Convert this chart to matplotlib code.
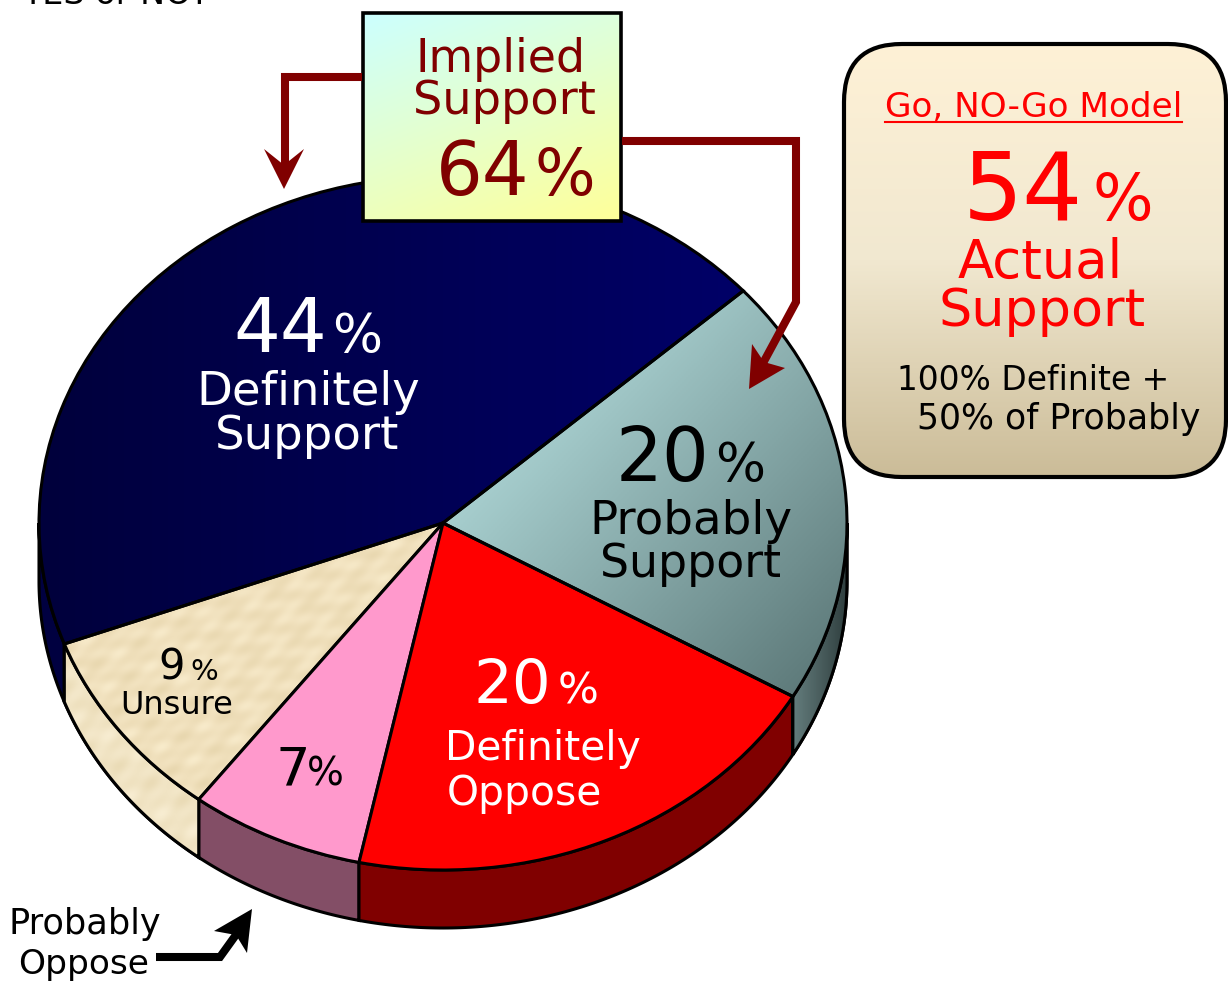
import numpy as np
import matplotlib
matplotlib.use('Agg')
import matplotlib.pyplot as plt
from matplotlib.colors import LinearSegmentedColormap
from matplotlib.patches import Polygon, Rectangle, FancyBboxPatch

# Chart data
slice_names = ['Definitely Support', 'Unsure', 'Probably Oppose', 'Definitely Oppose', 'Probably Support']
slice_values = [44, 9, 7, 20, 20]
slice_colors = ['#000066', '#F0E0BC', '#FF99CC', '#FF0000', '#8FB5B5']
side_colors = ['#000040', '#F3E6C6', '#834E66', '#800000', '#4F6868']
implied_support = 64
actual_support = 54

# Geometry of the tilted pie, in pixels of the 1228x981 picture
W, H = 1228, 981
cx, cy, rx, ry = 443, 523, 404, 347
depth = 58
start_angle = 42
dark_red = '#800000'


def gradient(c1, c2, horizontal, vertical, n=200):
    # 0..1 ramp running in the given direction
    x, y = np.meshgrid(np.linspace(0, 1, n), np.linspace(0, 1, n))
    ramp = (horizontal * x + vertical * y) / (horizontal + vertical)
    return ramp, LinearSegmentedColormap.from_list('g', [c1, c2])


def head(ax, tip, left, right, notch, color):
    ax.add_patch(Polygon([tip, left, notch, right], closed=True, fc=color, ec='none', zorder=6))


def label(ax, x, y, s, size, color='black', **kw):
    ax.text(x, y, s, fontsize=size, color=color, ha='left', va='baseline', zorder=7, **kw)


plt.rcParams['font.family'] = ['DejaVu Sans']
fig = plt.figure(figsize=(W / 100, H / 100), dpi=100, facecolor='white')

# Pie axes: unit circle maps onto the ellipse
pie_ax = fig.add_axes([0, 0, 1, 1])
wedges, _ = pie_ax.pie(slice_values, colors=slice_colors, startangle=start_angle, radius=1,
                       wedgeprops={'edgecolor': 'black', 'linewidth': 2.2, 'zorder': 3})
pie_ax.set_aspect('auto')
pie_xlim = ((0 - cx) / rx, (W - cx) / rx)
pie_ylim = ((cy - H) / ry, cy / ry)
pie_ax.axis('off')

# Sides of the pie, lower half only
shift = depth / ry
edges = start_angle + np.cumsum([0] + slice_values) * 3.6
side_patches = []
for i in range(len(slice_values)):
    a0, a1 = edges[i], edges[i + 1]
    for lo, hi in [(a0, a1), (a0 - 360, a1 - 360)]:
        lo, hi = max(lo, -180), min(hi, 0)
        if hi <= lo:
            continue
        t = np.radians(np.linspace(lo, hi, 120))
        top = np.column_stack([np.cos(t), np.sin(t)])
        bottom = (top - [0, shift])[::-1]
        p = Polygon(np.vstack([top, bottom]), closed=True, fc=side_colors[i], ec='black', lw=2.2, zorder=2)
        pie_ax.add_patch(p)
        side_patches.append((i, p))

# Shading of the top and side faces
ramp, cmap = gradient('#C6F2F2', '#557070', 1, 1)
im = pie_ax.imshow(ramp, cmap=cmap, extent=(0.0, 1.0, -0.55, 0.68), origin='upper', aspect='auto', zorder=2.5)
im.set_clip_path(wedges[4])

ramp, cmap = gradient('#00003C', '#00006E', 1, 0)
im = pie_ax.imshow(ramp, cmap=cmap, extent=(-1.0, 1.0, -1.0, 1.0), origin='upper', aspect='auto', zorder=2.5)
im.set_clip_path(wedges[0])

# Mottled paper look of the Unsure slice
gx, gy = np.meshgrid(np.arange(160), np.arange(160))
mottle = (np.sin(gx * 0.41 + gy * 0.13) + np.sin(gx * 0.17 - gy * 0.37) + np.sin(gx * 0.73 + gy * 0.59)
          + np.sin(gx * 0.09 + gy * 0.83))
paper = LinearSegmentedColormap.from_list('paper', ['#E8D7AF', '#F0E0BC', '#F8EBCB'])
im = pie_ax.imshow(mottle, cmap=paper, extent=(-1.0, 0.0, -1.0, 0.0), aspect='auto',
                   interpolation='bilinear', zorder=2.5)
im.set_clip_path(wedges[1])

for i, p in side_patches:
    if i == 4:
        ramp, cmap = gradient('#7F9C9C', '#2F3F3F', 1, 0)
        im = pie_ax.imshow(ramp, cmap=cmap, extent=(0.8, 1.0, -1.0, 0.0), origin='upper', aspect='auto', zorder=2.2)
        im.set_clip_path(p)
        pie_ax.add_patch(Polygon(p.get_xy(), closed=True, fc='none', ec='black', lw=2.2, zorder=2.3))
    if i == 1:
        im = pie_ax.imshow(mottle, cmap=LinearSegmentedColormap.from_list('p2', ['#EADBB6', '#F8EDD2']),
                           extent=(-1.0, 0.0, -1.3, 0.0), aspect='auto', interpolation='bilinear', zorder=2.2)
        im.set_clip_path(p)
        pie_ax.add_patch(Polygon(p.get_xy(), closed=True, fc='none', ec='black', lw=2.2, zorder=2.3))

for w in wedges:
    w.set_zorder(3)
for i in (0, 1, 4):
    wedges[i].set_facecolor('none')
pie_ax.set_xlim(pie_xlim)
pie_ax.set_ylim(pie_ylim)

# Overlay axes in picture pixels for call-outs and text
ax = fig.add_axes([0, 0, 1, 1])
ax.set_xlim(0, W)
ax.set_ylim(H, 0)
ax.axis('off')
ax.patch.set_alpha(0)

label(ax, 22, 4, 'YES or NO?', 24)

# Implied support box
ramp, cmap = gradient('#CCFFFF', '#FFFF99', 0.5, 1)
im = ax.imshow(ramp, cmap=cmap, extent=(363, 621, 221, 13), aspect='auto', zorder=4)
ax.add_patch(Rectangle((363, 13), 258, 208, fc='none', ec='black', lw=2.6, zorder=5))
label(ax, 415, 72, 'Implied', 33, dark_red)
label(ax, 413, 114, 'Support', 33.3, dark_red)
label(ax, 436, 195, str(implied_support), 53, dark_red)
label(ax, 534, 195, '%', 46, dark_red)

# Dark red arrows out of the box
ax.plot([362, 285, 285], [77, 77, 170], color=dark_red, lw=5.8, solid_joinstyle='miter', solid_capstyle='butt', zorder=5)
head(ax, (284, 189), (264, 149), (304, 149), (284, 165), dark_red)
ax.plot([622, 796, 796, 762], [141, 141, 302, 365], color=dark_red, lw=5.8, solid_joinstyle='miter',
        solid_capstyle='butt', zorder=5)
head(ax, (749, 389), (752, 344), (785, 368), (764, 362), dark_red)

# Black arrow for Probably Oppose
ax.plot([156, 220, 238], [957, 957, 932], color='black', lw=5.8, solid_joinstyle='miter', solid_capstyle='butt', zorder=5)
head(ax, (252, 909), (214, 931), (247, 953), (236, 935), 'black')

# Go / No-Go panel
box = FancyBboxPatch((844 + 58, 44 + 58), 382 - 116, 433 - 116, boxstyle='round,pad=58,rounding_size=58',
                     fc='none', ec='black', lw=3, zorder=5)
ax.add_patch(box)
ramp, cmap = gradient('#FEF1D6', '#CBBC98', 0, 1)
cmap = LinearSegmentedColormap.from_list('panel', ['#FEF1D6', '#F1E8D0', '#CBBC98'])
im = ax.imshow(ramp, cmap=cmap, extent=(844, 1226, 477, 44), aspect='auto', zorder=4)
im.set_clip_path(box)
label(ax, 885, 117, 'Go, NO-Go Model', 24.7, '#FF0000')
ax.plot([885, 1182], [122, 122], color='#FF0000', lw=1.5, zorder=7)
label(ax, 963, 220, str(actual_support), 68, '#FF0000')
label(ax, 1092, 220, '%', 46, '#FF0000')
label(ax, 958, 278, 'Actual', 38, '#FF0000')
label(ax, 938, 326, 'Support', 37.7, '#FF0000')
label(ax, 897, 390, '100% Definite +', 23.7)
label(ax, 917, 429, '50% of Probably', 25)

# Slice labels
label(ax, 233, 352, str(slice_values[0]), 53, 'white')
label(ax, 332, 352, '%', 38, 'white')
label(ax, 196, 405, 'Definitely', 33.5, 'white')
label(ax, 215, 449, 'Support', 33.5, 'white')

label(ax, 616, 481, str(slice_values[4]), 53)
label(ax, 715, 481, '%', 38)
label(ax, 589, 534, 'Probably', 33.7)
label(ax, 600, 577, 'Support', 33)

label(ax, 474, 703, str(slice_values[3]), 44, 'white')
label(ax, 558, 703, '%', 31, 'white')
label(ax, 445, 760, 'Definitely', 29.3, 'white')
label(ax, 447, 805, 'Oppose', 29.3, 'white')

label(ax, 158, 680, str(slice_values[1]), 30)
label(ax, 190, 680, '%', 21)
label(ax, 120, 714, 'Unsure', 23)

label(ax, 275, 785, str(slice_values[2]), 39)
label(ax, 307, 785, '%', 28)

label(ax, 8, 934, 'Probably', 25.3)
label(ax, 18, 974, 'Oppose', 24.8)

fig.savefig('out.png', dpi=100)
